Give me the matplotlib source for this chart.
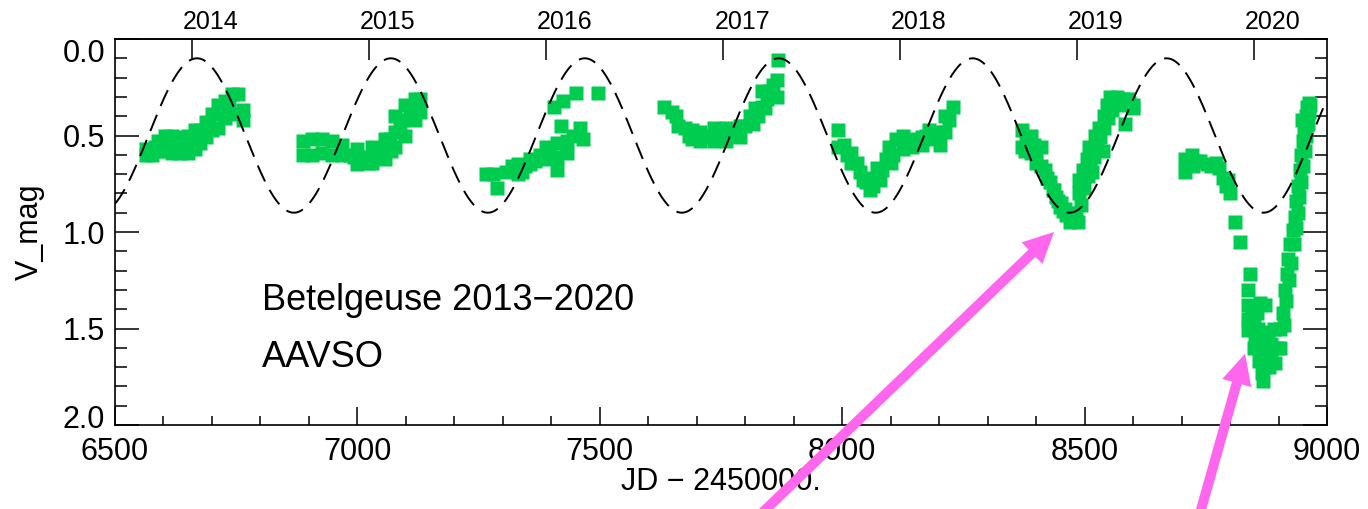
import numpy as np
import matplotlib
matplotlib.use("Agg")
import matplotlib.pyplot as plt
from matplotlib.ticker import MultipleLocator, FormatStrFormatter
import matplotlib.transforms as mtransforms

plt.rcParams['font.family'] = ['Liberation Sans', 'DejaVu Sans']

# ---------------- data (JD - 2450000, V mag) ----------------
jd_2014 = [6564, 6564, 6576, 6576, 6589, 6589, 6603, 6603, 6610, 6618, 6618, 6634, 6634,
           6642, 6651, 6651, 6660, 6665, 6665, 6675, 6675, 6688, 6688, 6700, 6700, 6712,
           6712, 6727, 6727, 6741, 6741, 6754, 6764, 6764, 6582, 6626, 6694, 6720, 6735]
mag_2014 = [0.57, 0.60, 0.57, 0.60, 0.53, 0.58, 0.50, 0.58, 0.55, 0.50, 0.59, 0.51, 0.59,
            0.55, 0.50, 0.59, 0.53, 0.47, 0.57, 0.47, 0.54, 0.43, 0.51, 0.39, 0.47, 0.34,
            0.46, 0.32, 0.41, 0.285, 0.39, 0.285, 0.37, 0.42, 0.56, 0.55, 0.45, 0.38, 0.34]

jd_2015 = [6888, 6888, 6906, 6906, 6927, 6927, 6947, 6947, 6968, 6968, 6984, 6999, 6999,
           7015, 7030, 7030, 7045, 7057, 7057, 7067, 7077, 7077, 7077, 7088, 7098, 7098,
           7108, 7119, 7119, 7129, 7129, 6992, 7022, 7040, 7070, 7092, 7112]
mag_2015 = [0.53, 0.60, 0.52, 0.60, 0.52, 0.59, 0.53, 0.60, 0.55, 0.60, 0.60, 0.57, 0.65,
            0.61, 0.56, 0.64, 0.58, 0.52, 0.62, 0.52, 0.40, 0.48, 0.56, 0.45, 0.34, 0.50,
            0.40, 0.31, 0.42, 0.31, 0.38, 0.61, 0.64, 0.60, 0.58, 0.42, 0.36]

jd_2016 = [7265, 7279, 7288, 7306, 7318, 7331, 7331, 7345, 7356, 7356, 7376, 7389, 7389,
           7405, 7411, 7411, 7411, 7420, 7424, 7432, 7432, 7444, 7451, 7459, 7465, 7496,
           7340, 7366, 7398]
mag_2016 = [0.70, 0.70, 0.77, 0.69, 0.66, 0.65, 0.70, 0.66, 0.62, 0.65, 0.60, 0.56, 0.62,
            0.35, 0.54, 0.61, 0.68, 0.45, 0.32, 0.53, 0.59, 0.50, 0.28, 0.46, 0.52, 0.28,
            0.69, 0.63, 0.58]

jd_2017 = [7632, 7648, 7658, 7661, 7675, 7690, 7690, 7706, 7706, 7720, 7735, 7735, 7748,
           7760, 7760, 7775, 7789, 7789, 7800, 7809, 7815, 7820, 7826, 7834, 7834, 7845,
           7852, 7865, 7865, 7867, 7683, 7727, 7768, 7840, 7858]
mag_2017 = [0.35, 0.38, 0.40, 0.45, 0.46, 0.47, 0.52, 0.48, 0.53, 0.50, 0.46, 0.53, 0.52,
            0.46, 0.53, 0.50, 0.45, 0.51, 0.45, 0.40, 0.44, 0.36, 0.40, 0.27, 0.35, 0.31,
            0.27, 0.21, 0.30, 0.11, 0.50, 0.51, 0.48, 0.36, 0.24]

jd_2018 = [7991, 7991, 8004, 8018, 8018, 8030, 8036, 8042, 8050, 8057, 8057, 8071, 8077,
           8083, 8096, 8100, 8104, 8112, 8125, 8125, 8139, 8150, 8164, 8164, 8180, 8190,
           8201, 8201, 8213, 8213, 8228, 8010, 8064, 8090, 8145, 8172, 8220]
mag_2018 = [0.47, 0.56, 0.55, 0.59, 0.64, 0.64, 0.69, 0.73, 0.74, 0.72, 0.78, 0.67, 0.73,
            0.68, 0.56, 0.64, 0.60, 0.52, 0.50, 0.57, 0.53, 0.52, 0.51, 0.55, 0.47, 0.52,
            0.48, 0.55, 0.40, 0.48, 0.35, 0.60, 0.76, 0.62, 0.56, 0.50, 0.42]

jd_2019 = [8370, 8370, 8380, 8389, 8389, 8400, 8411, 8411, 8422, 8434, 8436, 8445, 8455,
           8449, 8462, 8470, 8478, 8486, 8488, 8488, 8496, 8504, 8510, 8516, 8521, 8529,
           8537, 8539, 8546, 8552, 8566, 8575, 8583, 8590, 8599, 8599,
           8378, 8395, 8400, 8418, 8428, 8440, 8452, 8460, 8472, 8482, 8492, 8498, 8506,
           8512, 8520, 8526, 8532, 8540, 8548, 8556, 8560, 8580, 8592]
mag_2019 = [0.47, 0.56, 0.52, 0.50, 0.59, 0.58, 0.56, 0.66, 0.72, 0.78, 0.78, 0.84, 0.89,
            0.87, 0.91, 0.95, 0.92, 0.95, 0.80, 0.73, 0.68, 0.62, 0.56, 0.69, 0.50, 0.46,
            0.58, 0.40, 0.34, 0.30, 0.30, 0.34, 0.44, 0.31, 0.34, 0.36,
            0.58, 0.55, 0.64, 0.68, 0.74, 0.82, 0.85, 0.88, 0.90, 0.90, 0.86, 0.77, 0.71,
            0.65, 0.61, 0.55, 0.51, 0.46, 0.41, 0.37, 0.32, 0.31, 0.33]

jd_2020 = [8707, 8707, 8722, 8724, 8738, 8752, 8771, 8777, 8785, 8792, 8796, 8800, 8810,
           8820, 8841, 8837, 8837, 8838, 8838, 8849, 8856, 8852, 8862, 8872, 8866, 8878,
           8860, 8885, 8866, 8868, 8880, 8892, 8897, 8903, 8909, 8913, 8917, 8920, 8924,
           8929, 8933, 8936, 8940, 8944, 8947, 8950, 8953, 8956, 8959, 8962, 8965, 8948,
           8904, 8912, 8916, 8922, 8926, 8931, 8936, 8940, 8943, 8947, 8951, 8954, 8957,
           8960, 8963, 8875, 8885, 8890, 8880, 8873, 8858, 8845, 8850, 8730, 8760]
mag_2020 = [0.62, 0.69, 0.60, 0.66, 0.63, 0.65, 0.64, 0.67, 0.72, 0.76, 0.73, 0.80, 0.95,
            1.05, 1.22, 1.30, 1.38, 1.45, 1.51, 1.48, 1.42, 1.56, 1.37, 1.38, 1.60, 1.52,
            1.67, 1.65, 1.73, 1.77, 1.70, 1.68, 1.60, 1.50, 1.42, 1.30, 1.22, 1.14, 1.06,
            0.99, 0.92, 0.84, 0.76, 0.68, 0.60, 0.53, 0.46, 0.40, 0.35, 0.33, 0.34, 0.42,
            1.60, 1.48, 1.36, 1.25, 1.16, 1.06, 0.98, 0.90, 0.82, 0.74, 0.66, 0.58, 0.50,
            0.44, 0.38, 1.55, 1.58, 1.50, 1.62, 1.70, 1.50, 1.40, 1.60, 0.63, 0.66]

# sinusoidal model (dashed curve)
model_period = 400.0     # days
model_epoch = 6669.0     # JD of maximum brightness
model_mean = 0.5
model_amp = 0.4

# calendar year marks on top axis (JD - 2450000 of Jan 1)
year_labels = ['2014', '2015', '2016', '2017', '2018', '2019', '2020']
year_jd = [6658.5, 7023.5, 7388.5, 7754.5, 8119.5, 8484.5, 8849.5]

# arrows: (tail_jd, tail_mag) -> (tip_jd, tip_mag)
arrow_tails = [(7775, 2.60), (8722, 2.60)]
arrow_tips = [(8437, 1.00), (8831, 1.63)]

green = '#00CC50'
pink = '#FF66EE'

# ---------------- figure ----------------
W, H = 1368, 509
fig = plt.figure(figsize=(W / 100, H / 100), dpi=100)
ax = fig.add_axes([115 / W, 1 - 425 / H, 1212 / W, 386 / H])

jd = np.concatenate([jd_2014, jd_2015, jd_2016, jd_2017, jd_2018, jd_2019, jd_2020])
mag = np.concatenate([mag_2014, mag_2015, mag_2016, mag_2017, mag_2018, mag_2019, mag_2020])

ax.plot(jd, mag, ls='none', marker='s', ms=10, mfc=green, mec='none', zorder=2)

t = np.linspace(6500, 9000, 3000)
model = model_mean - model_amp * np.cos(2 * np.pi * (t - model_epoch) / model_period)
ax.plot(t, model, color='black', lw=1.4, dashes=(9, 4.9), zorder=3)

ax.set_xlim(6500, 9000)
ax.set_ylim(2.0, 0.0)

ax.xaxis.set_major_locator(MultipleLocator(500))
ax.xaxis.set_minor_locator(MultipleLocator(100))
ax.yaxis.set_major_locator(MultipleLocator(0.5))
ax.yaxis.set_minor_locator(MultipleLocator(0.1))
ax.yaxis.set_major_formatter(FormatStrFormatter('%.1f'))

ax.tick_params(axis='x', which='major', direction='in', length=13, width=1.1,
               labelsize=22, pad=8.5, top=False, bottom=True)
ax.tick_params(axis='x', which='minor', direction='in', length=6.5, width=1.1,
               top=False, bottom=True)
ax.tick_params(axis='y', which='major', direction='in', length=17, width=1.1,
               labelsize=22, pad=7, left=True, right=True)
ax.tick_params(axis='y', which='minor', direction='in', length=8.5, width=1.1,
               left=True, right=True)
for s in ax.spines.values():
    s.set_linewidth(1.2)

# top year ticks
sec = ax.secondary_xaxis('top')
sec.set_xticks(year_jd)
sec.set_xticklabels([])
sec.tick_params(direction='in', length=15, width=1.1)
sec.spines['top'].set_linewidth(1.2)

trans = mtransforms.blended_transform_factory(ax.transData, ax.transAxes)
for lab, x in zip(year_labels, year_jd):
    ax.text(x + 39, 1.026, lab, transform=trans, ha='center', va='baseline',
            fontsize=18)

ax.set_xlabel('JD \u2212 2450000.', fontsize=22, labelpad=0)
ax.set_ylabel('V_mag', fontsize=22)
ax.yaxis.set_label_coords(-0.058, 0.5)

ax.text(6803, 1.404, 'Betelgeuse 2013\u22122020', fontsize=26, va='baseline')
ax.text(6803, 1.700, 'AAVSO', fontsize=26, va='baseline')

for (tx, ty), (hx, hy) in zip(arrow_tails, arrow_tips):
    ax.annotate('', xy=(hx, hy), xytext=(tx, ty), xycoords='data', textcoords='data',
                arrowprops=dict(color=pink, width=7.2, headwidth=21.6, headlength=22,
                                lw=0, clip_on=False),
                annotation_clip=False, zorder=6)

# shift the end y tick labels inward (as in the reference)
fig.canvas.draw()
for tick in ax.yaxis.get_major_ticks():
    loc = tick.get_loc()
    if abs(loc - 0.0) < 1e-6:
        dy = -11 / 100
    elif abs(loc - 2.0) < 1e-6:
        dy = 9 / 100
    else:
        continue
    tick.label1.set_transform(tick.label1.get_transform() +
                              mtransforms.ScaledTranslation(0, dy, fig.dpi_scale_trans))

fig.savefig('out.png', dpi=100)
